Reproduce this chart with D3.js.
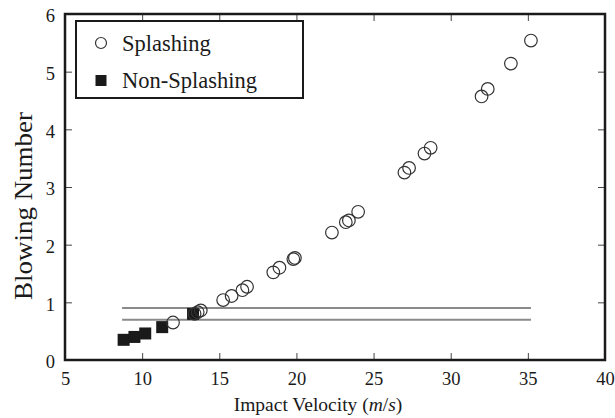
<!DOCTYPE html>
<html><head><meta charset="utf-8">
<script src="https://cdn.jsdelivr.net/npm/d3@7"></script>
<style>
html,body{margin:0;padding:0;background:#fff;}
svg text{font-family:"Liberation Serif","Times New Roman",serif;fill:#1a1a1a;}
</style></head>
<body><svg id="c" width="615" height="418"></svg>
<script>
const splashX = [12.0, 13.4, 13.6, 13.8, 15.25, 15.8, 16.5, 16.8, 18.5, 18.9, 19.8, 19.9, 22.3, 23.2, 23.4, 24.0, 27.0, 27.3, 28.3, 28.7, 32.0, 32.4, 33.9, 35.2];
const splashY = [0.65, 0.80, 0.83, 0.86, 1.04, 1.11, 1.21, 1.27, 1.52, 1.60, 1.75, 1.77, 2.21, 2.39, 2.42, 2.57, 3.25, 3.33, 3.58, 3.68, 4.57, 4.70, 5.14, 5.54];
const nonX = [8.8, 9.5, 10.2, 11.3, 13.3];
const nonY = [0.35, 0.40, 0.46, 0.57, 0.80];
const thresholdY = [0.9, 0.7];
const thresholdX = [8.7, 35.2];
const xTicks = [5, 10, 15, 20, 25, 30, 35, 40];
const yTicks = [0, 1, 2, 3, 4, 5, 6];

const FONT = "'Liberation Serif','Times New Roman',serif";
const svg = d3.select("#c");
const L = 65, R = 605, T = 14, B = 360;
const x = d3.scaleLinear().domain([5, 40]).range([L, R]);
const y = d3.scaleLinear().domain([0, 6]).range([B, T]);

// threshold lines
thresholdY.forEach(v => {
  svg.append("line").attr("x1", x(thresholdX[0])).attr("x2", x(thresholdX[1]))
    .attr("y1", y(v)).attr("y2", y(v)).attr("stroke", "#8a8a8a").attr("stroke-width", 2);
});

// axes with inward ticks
const tl = 7;
const fmt = d3.format("d");
const gB = svg.append("g").attr("transform", `translate(0,${B})`)
  .call(d3.axisBottom(x).tickValues(xTicks).tickFormat(fmt).tickSizeInner(-tl).tickSizeOuter(0).tickPadding(12));
const gT = svg.append("g").attr("transform", `translate(0,${T})`)
  .call(d3.axisTop(x).tickValues(xTicks).tickSizeInner(-tl).tickSizeOuter(0).tickFormat(""));
const gL = svg.append("g").attr("transform", `translate(${L},0)`)
  .call(d3.axisLeft(y).tickValues(yTicks).tickFormat(fmt).tickSizeInner(-tl).tickSizeOuter(0).tickPadding(10));
const gR = svg.append("g").attr("transform", `translate(${R},0)`)
  .call(d3.axisRight(y).tickValues(yTicks).tickSizeInner(-tl).tickSizeOuter(0).tickFormat(""));
[gB, gT, gL, gR].forEach(g => {
  g.attr("font-family", FONT);
  g.select(".domain").remove();
  g.selectAll(".tick line").attr("stroke", "#444").attr("stroke-width", 1);
  g.selectAll("text").attr("font-size", 18.5).attr("fill", "#1a1a1a").attr("font-family", FONT);
});
gB.selectAll("text").attr("dy", "0.71em");
gL.selectAll("text").attr("dy", "0.42em");

// frame
svg.append("rect").attr("x", L).attr("y", T).attr("width", R - L).attr("height", B - T)
  .attr("fill", "none").attr("stroke", "#1a1a1a").attr("stroke-width", 2.5);

// non-splashing squares
const s = 12;
svg.append("g").selectAll("rect").data(nonX).join("rect")
  .attr("x", (d, i) => x(d) - s/2).attr("y", (d, i) => y(nonY[i]) - s/2)
  .attr("width", s).attr("height", s).attr("fill", "#1a1a1a");

// splashing circles
svg.append("g").selectAll("circle").data(splashX).join("circle")
  .attr("cx", d => x(d)).attr("cy", (d, i) => y(splashY[i])).attr("r", 6.3)
  .attr("fill", "none").attr("stroke", "#333").attr("stroke-width", 1.2);

// legend
svg.append("rect").attr("x", 76).attr("y", 21).attr("width", 227).attr("height", 77)
  .attr("fill", "#fff").attr("stroke", "#1a1a1a").attr("stroke-width", 2);
svg.append("circle").attr("cx", 101).attr("cy", 43).attr("r", 5.5)
  .attr("fill", "none").attr("stroke", "#333").attr("stroke-width", 1.2);
svg.append("rect").attr("x", 95.5).attr("y", 75).attr("width", 11).attr("height", 11).attr("fill", "#1a1a1a");
svg.append("text").attr("x", 122).attr("y", 51).attr("font-family", FONT).attr("font-size", 22.5).text("Splashing");
svg.append("text").attr("x", 122).attr("y", 88).attr("font-family", FONT).attr("font-size", 22.5).text("Non-Splashing");

// axis titles
const xt = svg.append("text").attr("x", 318).attr("y", 411).attr("text-anchor", "middle")
  .attr("font-family", FONT).attr("font-size", 19.5);
xt.append("tspan").text("Impact Velocity (");
xt.append("tspan").attr("font-style", "italic").text("m");
xt.append("tspan").text("/");
xt.append("tspan").attr("font-style", "italic").text("s");
xt.append("tspan").text(")");

svg.append("text").attr("transform", `translate(32,206) rotate(-90)`)
  .attr("text-anchor", "middle").attr("font-family", FONT).attr("font-size", 25)
  .attr("textLength", 188).attr("lengthAdjust", "spacingAndGlyphs").text("Blowing Number");
</script></body></html>
